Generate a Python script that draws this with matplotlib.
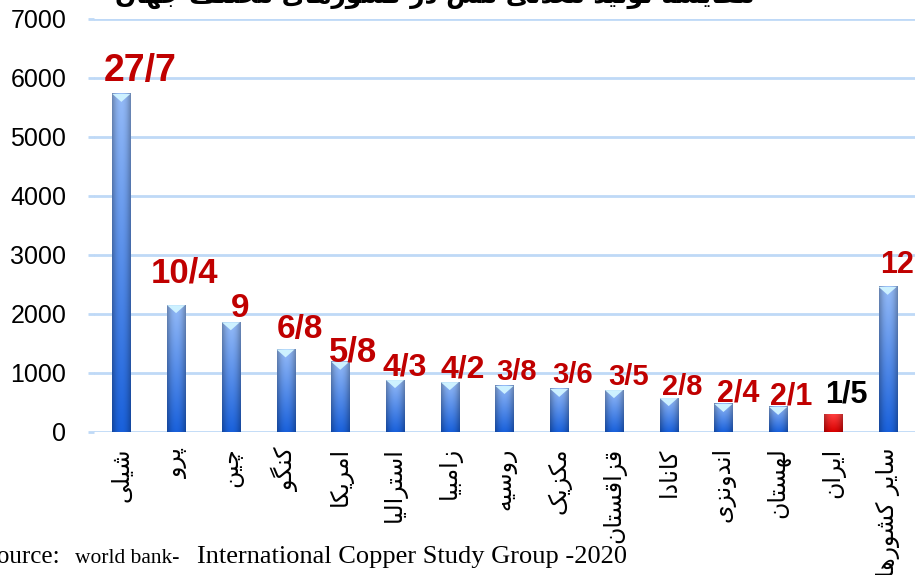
import matplotlib
matplotlib.use('Agg')
import matplotlib.pyplot as plt
from matplotlib.patches import Polygon
import numpy as np

# داده‌ها (هزار تن)
countries = ['شیلی', 'پرو', 'چین', 'کنگو', 'امریکا', 'استرالیا', 'زامبیا', 'روسیه',
             'مکزیک', 'قزاقستان', 'کانادا', 'اندونزی', 'لهستان', 'ایران', 'سایر کشورها']
production = [5730, 2150, 1860, 1400, 1190, 880, 845, 780, 730, 710, 575, 475, 425, 290, 2460]
shares = ['27/7', '10/4', '9', '6/8', '5/8', '4/3', '4/2', '3/8', '3/6', '3/5',
          '2/8', '2/4', '2/1', '1/5', '12']
yticks = [0, 1000, 2000, 3000, 4000, 5000, 6000, 7000]
title = 'مقایسه تولید معدنی مس در کشورهای مختلف جهان'

# جای و اندازه برچسب‌ها
label_sizes = [27, 25, 24, 24, 25, 23, 23, 21, 21, 21, 21, 22, 22, 22, 22]
label_dy = [9, 16, 3.5, 8, 0, 3.5, 3, 4, 4, 3.5, 2, 1.5, 1.5, 9, 10]
label_dx = [0.35, 0.15, 0.17, 0.26, 0.23, 0.17, 0.23, 0.22, 0.24, 0.26, 0.24, 0.27, 0.24, 0.24, 0.18]
highlight = 'ایران'

# شکل‌دهی ساده حروف فارسی (iso, fin, ini, med)
FORMS = {
    'ا': (0xFE8D, 0xFE8E, None, None), 'آ': (0xFE81, 0xFE82, None, None),
    'ب': (0xFE8F, 0xFE90, 0xFE91, 0xFE92), 'پ': (0xFB56, 0xFB57, 0xFB58, 0xFB59),
    'ت': (0xFE95, 0xFE96, 0xFE97, 0xFE98), 'ث': (0xFE99, 0xFE9A, 0xFE9B, 0xFE9C),
    'ج': (0xFE9D, 0xFE9E, 0xFE9F, 0xFEA0), 'چ': (0xFB7A, 0xFB7B, 0xFB7C, 0xFB7D),
    'ح': (0xFEA1, 0xFEA2, 0xFEA3, 0xFEA4), 'خ': (0xFEA5, 0xFEA6, 0xFEA7, 0xFEA8),
    'د': (0xFEA9, 0xFEAA, None, None), 'ذ': (0xFEAB, 0xFEAC, None, None),
    'ر': (0xFEAD, 0xFEAE, None, None), 'ز': (0xFEAF, 0xFEB0, None, None),
    'ژ': (0xFB8A, 0xFB8B, None, None),
    'س': (0xFEB1, 0xFEB2, 0xFEB3, 0xFEB4), 'ش': (0xFEB5, 0xFEB6, 0xFEB7, 0xFEB8),
    'ص': (0xFEB9, 0xFEBA, 0xFEBB, 0xFEBC), 'ض': (0xFEBD, 0xFEBE, 0xFEBF, 0xFEC0),
    'ط': (0xFEC1, 0xFEC2, 0xFEC3, 0xFEC4), 'ظ': (0xFEC5, 0xFEC6, 0xFEC7, 0xFEC8),
    'ع': (0xFEC9, 0xFECA, 0xFECB, 0xFECC), 'غ': (0xFECD, 0xFECE, 0xFECF, 0xFED0),
    'ف': (0xFED1, 0xFED2, 0xFED3, 0xFED4), 'ق': (0xFED5, 0xFED6, 0xFED7, 0xFED8),
    'ک': (0xFB8E, 0xFB8F, 0xFB90, 0xFB91), 'گ': (0xFB92, 0xFB93, 0xFB94, 0xFB95),
    'ل': (0xFEDD, 0xFEDE, 0xFEDF, 0xFEE0), 'م': (0xFEE1, 0xFEE2, 0xFEE3, 0xFEE4),
    'ن': (0xFEE5, 0xFEE6, 0xFEE7, 0xFEE8), 'ه': (0xFEE9, 0xFEEA, 0xFEEB, 0xFEEC),
    'و': (0xFEED, 0xFEEE, None, None), 'ی': (0xFBFC, 0xFBFD, 0xFBFE, 0xFBFF),
}


def shape(text):
    out = []
    for k, c in enumerate(text):
        if c not in FORMS:
            out.append(c)
            continue
        prev = text[k - 1] if k > 0 else None
        nxt = text[k + 1] if k + 1 < len(text) else None
        iso, fin, ini, med = FORMS[c]
        jp = prev in FORMS and FORMS[prev][2] is not None
        jn = nxt in FORMS and ini is not None
        if jp and jn:
            out.append(chr(med))
        elif jp:
            out.append(chr(fin))
        elif jn:
            out.append(chr(ini))
        else:
            out.append(chr(iso))
    return ''.join(reversed(out))


def grad_bar(ax, x, h, w, top, bottom):
    t = np.linspace(0, 1, 80)[:, None, None]
    s = np.linspace(-1, 1, 24)[None, :, None]
    img = np.array(top) * (1 - t) + np.array(bottom) * t
    img = img * (1 - 0.28 * s ** 2)
    ax.imshow(np.clip(img, 0, 1), extent=(x - w / 2, x + w / 2, 0, h), origin='upper',
              aspect='auto', zorder=3, interpolation='bilinear')


fig = plt.figure(figsize=(9.15, 5.75), dpi=100)
ax = fig.add_axes([0.1027, 0.2487, 0.8973, 0.7183])

w = 0.33
cap = 7000 / 413 * 8  # triangle height, 8 px
x = np.arange(len(countries))
for i, (c, v) in enumerate(zip(countries, production)):
    if c == highlight:
        grad_bar(ax, i, v, w, (1.0, 0.25, 0.25), (0.85, 0.0, 0.0))
    else:
        grad_bar(ax, i, v, w, (0.58, 0.73, 0.97), (0.10, 0.38, 0.86))
        ax.add_patch(Polygon([(i - w / 2, v), (i + w / 2, v), (i, v - cap)],
                             closed=True, facecolor='#CDF1FF', edgecolor='none', zorder=4))
    ax.annotate(shares[i], xy=(i + label_dx[i], v), xytext=(0, label_dy[i]),
                textcoords='offset points', ha='center', va='baseline',
                fontsize=label_sizes[i], fontweight='bold', family='Liberation Sans',
                color='black' if c == highlight else '#C00000', zorder=5)

ax.set_xlim(-0.5, len(countries) - 0.5)
ax.set_ylim(0, 7000)
ax.set_yticks(yticks)
ax.set_yticklabels([str(t) for t in yticks], family='Liberation Sans', fontsize=18)
ax.set_xticks(x)
ax.set_xticklabels([shape(c) for c in countries], rotation=90, fontsize=17,
                   family='DejaVu Sans', va='top')
ax.tick_params(axis='y', length=4, width=2, color='#BFD9F7', pad=16)
ax.tick_params(axis='x', length=0, pad=11)
for sp in ax.spines.values():
    sp.set_visible(False)
ax.grid(axis='y', color='#BFD9F7', lw=2, zorder=0)
ax.set_axisbelow(True)

fig.text(0.475, 1 - 3 / 575, shape(title), ha='center', va='baseline', fontsize=18,
         fontweight='bold', family='DejaVu Sans')

fig.text(-17 / 915, 12 / 575, 'Source:', family='Liberation Serif', fontsize=18, va='baseline')
fig.text(75 / 915, 12 / 575, 'world bank-', family='Liberation Serif', fontsize=15.5, va='baseline')
fig.text(197 / 915, 12 / 575, 'International Copper Study Group -2020',
         family='Liberation Serif', fontsize=19, va='baseline')

fig.savefig('out.png', dpi=100)
